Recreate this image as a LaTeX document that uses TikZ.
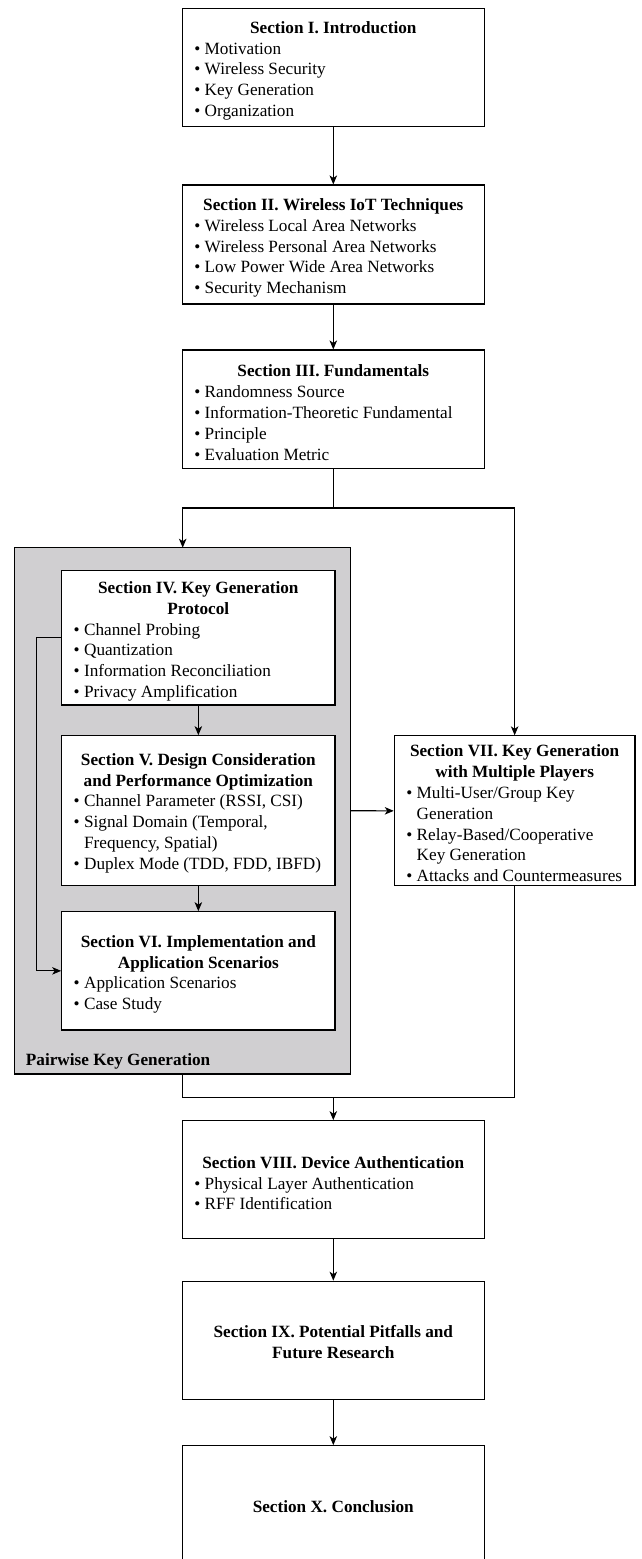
\documentclass[tikz,border=0pt]{standalone}
\usepackage{fontspec}
\setmainfont{Liberation Serif}
\usetikzlibrary{arrows.meta}
\definecolor{pkgray}{RGB}{208,207,209}
\newcommand{\itm}[1]{\par\noindent\hangindent=10.4pt\hangafter=1\makebox[10.4pt][l]{\textbullet}#1\par}
\newcommand{\ttl}[1]{{\centering\bfseries #1\par}}
\newenvironment{boxtext}[2]{\begin{minipage}{#1}\vspace*{#2}\raggedright\parindent=0pt}{\end{minipage}}
\begin{document}
\begin{tikzpicture}[x=1pt,y=-1pt,
  every node/.style={font=\fontsize{17.2}{20.8}\selectfont},
  secbox/.style={draw=black, line width=1.1pt, fill=white, rectangle, inner xsep=12pt, inner ysep=0pt},
  widebox/.style={secbox, minimum width=302pt},
  midbox/.style={secbox, minimum width=273.3pt},
  sidebox/.style={secbox, minimum width=240.7pt},
  arr/.style={line width=1.1pt, -{Stealth[length=9pt,width=7.5pt,inset=2.5pt]}},
  ln/.style={line width=1.1pt}]
\useasboundingbox (0,0) rectangle (641,1559);

% gray group
\node[draw=black, line width=1.1pt, fill=pkgray, minimum width=336.2pt, minimum height=526.3pt, inner sep=0pt] (pw) at (182.4,810.85) {};
\node[anchor=west, inner sep=0pt, font=\fontsize{17.2}{20.8}\selectfont\bfseries] (pwl) at (25.7,1061) {Pairwise Key Generation};

\node[widebox, minimum height=117.7pt] (s1) at (333.3,67.2) {\begin{boxtext}{278pt}{7pt}\ttl{Section I. Introduction}
\itm{\mbox{Motivation}}
\itm{\mbox{Wireless Security}}
\itm{\mbox{Key Generation}}
\itm{\mbox{Organization}}\end{boxtext}};

\node[widebox, minimum height=119pt] (s2) at (333.3,244.5) {\begin{boxtext}{278pt}{7pt}\ttl{Section II. Wireless IoT Techniques}
\itm{\mbox{Wireless Local Area Networks}}
\itm{\mbox{Wireless Personal Area Networks}}
\itm{\mbox{Low Power Wide Area Networks}}
\itm{\mbox{Security Mechanism}}\end{boxtext}};

\node[widebox, minimum height=118.3pt] (s3) at (333.3,409.15) {\begin{boxtext}{278pt}{7pt}\ttl{Section III. Fundamentals}
\itm{\mbox{Randomness Source}}
\itm{\mbox{Information-Theoretic Fundamental}}
\itm{\mbox{Principle}}
\itm{\mbox{Evaluation Metric}}\end{boxtext}};

\node[midbox, minimum height=134.3pt] (s4) at (198.35,637.85) {\begin{boxtext}{249.3pt}{7pt}\ttl{Section IV. Key Generation\\Protocol}
\itm{\mbox{Channel Probing}}
\itm{\mbox{Quantization}}
\itm{\mbox{Information Reconciliation}}
\itm{\mbox{Privacy Amplification}}\end{boxtext}};

\node[midbox, minimum height=150pt] (s5) at (198.35,810.7) {\begin{boxtext}{249.3pt}{5pt}\ttl{Section V. Design Consideration\\and Performance Optimization}
\itm{\mbox{Channel Parameter (RSSI, CSI)}}
\itm{\mbox{Signal Domain (Temporal,}\newline\mbox{Frequency, Spatial)}}
\itm{\mbox{Duplex Mode (TDD, FDD, IBFD)}}\end{boxtext}};

\node[midbox, minimum height=118.3pt] (s6) at (198.35,970.85) {\begin{boxtext}{249.3pt}{7pt}\ttl{Section VI. Implementation and\\Application Scenarios}
\itm{\mbox{Application Scenarios}}
\itm{\mbox{Case Study}}\end{boxtext}};

\node[sidebox, minimum height=150pt] (s7) at (514.65,810.85) {\begin{boxtext}{216.7pt}{5pt}\ttl{Section VII. Key Generation\\with Multiple Players}
\itm{\mbox{Multi-User/Group Key}\newline\mbox{Generation}}
\itm{\mbox{Relay-Based/Cooperative}\newline\mbox{Key Generation}}
\itm{\mbox{Attacks and Countermeasures}}\end{boxtext}};

\node[widebox, minimum height=118pt] (s8) at (333.3,1179.7) {\begin{boxtext}{278pt}{7pt}\ttl{Section VIII. Device Authentication}
\itm{\mbox{Physical Layer Authentication}}
\itm{\mbox{RFF Identification}}\end{boxtext}};

\node[widebox, minimum height=118.3pt] (s9) at (333.3,1340.35) {\begin{boxtext}{278pt}{3pt}\ttl{Section IX. Potential Pitfalls and\\Future Research}\end{boxtext}};

\node[widebox, minimum height=122pt] (s10) at (333.3,1506.7) {\begin{boxtext}{278pt}{0pt}\ttl{Section X. Conclusion}\end{boxtext}};

% coordinates for branches
\coordinate (br) at (333.3,508);
\coordinate (pwin) at (182.7,547.7);
\coordinate (pwout) at (182.7,1074);
\coordinate (mg) at (333.3,1097.3);

\draw[arr] (s1.south) -- (s2.north);
\draw[arr] (s2.south) -- (s3.north);
\draw[ln] (s3.south) -- (br);
\draw[arr] (br) -| (pwin);
\draw[arr] (br) -| (s7.north);
\draw[arr] (s4.south) -- (s5.north);
\draw[arr] (s5.south) -- (s6.north);
\draw[arr] (s4.west) -- ++(-24.4,0) |- (s6.west);
\draw[arr] (s5.east -| pw.east) -- (s7.west);
\draw[ln] (pwout) |- (mg) -| (s7.south);
\draw[arr] (mg) -- (s8.north);
\draw[arr] (s8.south) -- (s9.north);
\draw[arr] (s9.south) -- (s10.north);
\end{tikzpicture}
\end{document}
